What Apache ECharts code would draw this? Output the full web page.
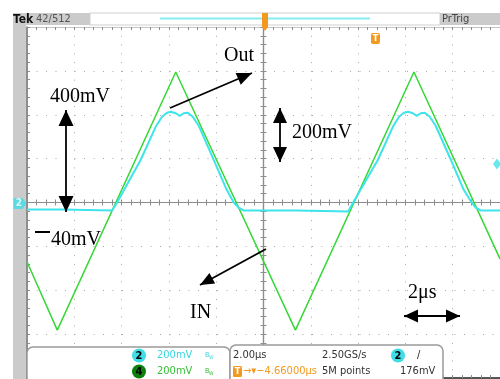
<!DOCTYPE html>
<html>
<head>
<meta charset="utf-8">
<script src="https://cdn.jsdelivr.net/npm/echarts@6/dist/echarts.min.js"></script>
<style>
  html, body { margin: 0; padding: 0; background: #fff; }
  #chart { width: 500px; height: 379px; }
</style>
</head>
<body>
<div id="chart"></div>
<script>
// Time base: 2 µs/div, 10 divisions; both channels 200 mV/div, 8 divisions
const timeRange = [-10, 10];
const timeStep = 2;
const mvRange = [-800, 800];
const mvStep = 200;

// CH4 (IN): triangle wave, corner points (µs, mV)
const inTime = [-10.0, -8.72, -3.71, 1.35, 6.36, 10.0];
const inMv = [-270, -582, 595, -582, 595, -257];

// CH2 (Out): clipped / rounded response (µs, mV)
const outTime = [-10.0, -8.55, -8.50, -6.40, -6.19, -5.19, -4.56, -4.29, -4.08, -3.92, -3.71, -3.54, -3.37, -3.20, -2.99, -2.74, -2.11, -1.56, -1.26, -1.05, -0.84,
  1.39, 1.45, 3.58, 3.79, 4.84, 5.47, 5.73, 5.94, 6.11, 6.32, 6.48, 6.65, 6.82, 7.03, 7.28, 7.92, 8.46, 8.80, 8.97, 9.18, 10.0];
const outMv = [-32, -32, -36, -36, 0, 195, 345, 391, 409, 414, 407, 395, 407, 409, 391, 350, 195, 59, 0, -23, -36,
  -36, -41, -41, 0, 195, 345, 391, 409, 414, 407, 395, 407, 409, 391, 350, 195, 59, 0, -23, -36, -36];

// Trigger settings
const trigLevelMv = [176];
const trigLevelText = '176mV';
const ch2Zero = [0];

// Readout texts
const chScaleText = ['200mV', '200mV'];
const timeDivText = '2.00\u03bcs';
const sampleRateText = '2.50GS/s';
const delayText = '\u22124.66000\u03bcs';
const recordText = '5M points';

const zip = (a, b) => a.map((v, i) => [v, b[i]]);

const CYAN = '#3fe3ea';
const GREEN = '#35d835';
const ORANGE = '#f29a1f';
const SCOPE_FONT = '"DejaVu Sans Condensed", "Liberation Sans Narrow", sans-serif';
const SERIF = '"Liberation Serif", "DejaVu Serif", serif';

const gridRect = { left: 27, top: 27, width: 475, height: 351 };

function txt(x, y, s, opts) {
  opts = opts || {};
  return {
    type: 'text', z: opts.z || 120,
    style: {
      x: x, y: y, text: s,
      font: opts.font || ('11px ' + SCOPE_FONT),
      fill: opts.fill || '#333',
      align: opts.align || 'left', textAlign: opts.align || 'left',
      verticalAlign: 'middle', textVerticalAlign: 'middle'
    }
  };
}

function head(tx, ty, fx, fy, L, W) {
  const dx = tx - fx, dy = ty - fy;
  const len = Math.hypot(dx, dy);
  const ux = dx / len, uy = dy / len;
  const bx = tx - ux * L, by = ty - uy * L;
  return {
    type: 'polygon', z: 130,
    shape: { points: [[tx, ty], [bx - uy * W, by + ux * W], [bx + uy * W, by - ux * W]] },
    style: { fill: '#000' }
  };
}

function arrow(x1, y1, x2, y2, both, L, W) {
  const els = [{
    type: 'line', z: 130,
    shape: { x1: x1, y1: y1, x2: x2, y2: y2 },
    style: { stroke: '#000', lineWidth: 1.8 }
  }];
  els.push(head(x2, y2, x1, y1, L, W));
  if (both) els.push(head(x1, y1, x2, y2, L, W));
  return els;
}

function chip(cx, cy, label, fill, color) {
  return [
    { type: 'circle', z: 125, shape: { cx: cx, cy: cy, r: 7 }, style: { fill: fill } },
    txt(cx, cy + 0.5, label, { align: 'center', fill: color || '#000', font: 'bold 11px ' + SCOPE_FONT, z: 126 })
  ];
}

const graphics = [
  // left bezel strip and header bar
  { type: 'rect', z: 110, shape: { x: 13, y: 13, width: 13, height: 366 }, style: { fill: '#cbcbcb' } },
  { type: 'rect', z: 110, shape: { x: 13, y: 13, width: 77, height: 12 }, style: { fill: '#cbcbcb' } },
  { type: 'rect', z: 110, shape: { x: 90, y: 13, width: 350, height: 12 }, style: { fill: '#fff', stroke: '#cfcfcf', lineWidth: 1 } },
  { type: 'line', z: 111, shape: { x1: 160, y1: 18.5, x2: 370, y2: 18.5 }, style: { stroke: '#86eef0', lineWidth: 2 } },
  { type: 'rect', z: 110, shape: { x: 440, y: 13, width: 62, height: 12 }, style: { fill: '#cbcbcb' } },
  txt(13, 19.5, 'Tek', { font: 'bold 12px ' + SCOPE_FONT, fill: '#111' }),
  txt(36, 19.5, '42/512', { fill: '#555' }),
  txt(442, 19.5, 'PrTrig', { fill: '#444' }),
  // trigger position marker (top centre) and trigger point marker
  { type: 'polygon', z: 120, shape: { points: [[262, 13], [268, 13], [268, 27], [265, 31], [262, 27]] }, style: { fill: ORANGE } },
  { type: 'rect', z: 120, shape: { x: 371, y: 33, width: 9, height: 11, r: 2 }, style: { fill: ORANGE } },
  txt(375.5, 38.5, 'T', { align: 'center', fill: '#fff', font: 'bold 9px ' + SCOPE_FONT, z: 121 }),

  // readout panels
  { type: 'rect', z: 115, shape: { x: 27, y: 347, width: 203, height: 44, r: 6 }, style: { fill: '#fff', stroke: '#9a9a9a', lineWidth: 1.5 } },
  { type: 'rect', z: 115, shape: { x: 230, y: 345, width: 213, height: 46, r: 6 }, style: { fill: '#fff', stroke: '#9a9a9a', lineWidth: 1.5 } },
  ...chip(139, 355.5, '2', '#3fdde6'),
  txt(157, 355.5, chScaleText[0], { fill: '#33d6e0' }),
  txt(205, 355, 'B', { fill: '#33d6e0', font: '7px ' + SCOPE_FONT }),
  txt(209, 357.5, 'W', { fill: '#33d6e0', font: '5px ' + SCOPE_FONT }),
  ...chip(139, 371.5, '4', '#0d7f0d'),
  txt(157, 371.5, chScaleText[1], { fill: '#33c033' }),
  txt(205, 371, 'B', { fill: '#33c033', font: '7px ' + SCOPE_FONT }),
  txt(209, 373.5, 'W', { fill: '#33c033', font: '5px ' + SCOPE_FONT }),
  txt(233, 355, timeDivText, { fill: '#333' }),
  txt(322, 355, sampleRateText, { fill: '#333' }),
  ...chip(398, 355.5, '2', '#3fdde6'),
  txt(417, 355, '/', { fill: '#222' }),
  { type: 'rect', z: 120, shape: { x: 233, y: 366, width: 9, height: 11, r: 1.5 }, style: { fill: ORANGE } },
  txt(237.5, 371.5, 'T', { align: 'center', fill: '#fff', font: 'bold 9px ' + SCOPE_FONT, z: 121 }),
  txt(243, 371.5, '\u2192\u25be' + delayText, { fill: ORANGE, font: '11px ' + SCOPE_FONT }),
  txt(322, 371.5, recordText, { fill: '#333' }),
  txt(400, 371.5, trigLevelText, { fill: '#333' }),

  // annotations
  txt(224, 56, 'Out', { font: '20px ' + SERIF, fill: '#000', z: 130 }),
  txt(50, 97, '400mV', { font: '20px ' + SERIF, fill: '#000', z: 130 }),
  txt(292, 133, '200mV', { font: '20px ' + SERIF, fill: '#000', z: 130 }),
  { type: 'line', z: 130, shape: { x1: 35, y1: 232, x2: 50, y2: 232 }, style: { stroke: '#000', lineWidth: 2 } },
  txt(51, 240, '40mV', { font: '20px ' + SERIF, fill: '#000', z: 130 }),
  txt(190, 313, 'IN', { font: '20px ' + SERIF, fill: '#000', z: 130 }),
  txt(408, 293, '2\u03bcs', { font: '20px ' + SERIF, fill: '#000', z: 130 }),
  ...arrow(170, 108, 252, 73, false, 15, 6.5),
  ...arrow(66, 110, 66, 212, true, 16, 7.5),
  ...arrow(280, 108, 280, 162, true, 15, 7),
  ...arrow(266, 249, 200, 285, false, 14, 6),
  ...arrow(404, 316, 460, 316, true, 14, 6.5)
];

function centerAxis(dim, position) {
  const isX = dim === 'x';
  return {
    type: 'value', gridIndex: 0, position: position,
    min: isX ? timeRange[0] : mvRange[0], max: isX ? timeRange[1] : mvRange[1],
    interval: isX ? timeStep : mvStep,
    axisLine: { show: true, onZero: true, onZeroAxisIndex: 0, lineStyle: { color: '#8d8d8d', width: 1.2 } },
    axisTick: { show: true, inside: true, length: 3, lineStyle: { color: '#8d8d8d' } },
    minorTick: { show: true, splitNumber: 5, length: 3, lineStyle: { color: '#8d8d8d' } },
    axisLabel: { show: false },
    splitLine: { show: false }
  };
}

const xMain = centerAxis('x', 'bottom');
xMain.splitLine = { show: true, lineStyle: { color: '#a8a8a8', width: 1, type: [1, 7.775] } };
const yMain = centerAxis('y', 'left');
yMain.splitLine = { show: true, lineStyle: { color: '#a8a8a8', width: 1, type: [1, 8.5] } };

function borderAxis(dim, position, color, width) {
  const isX = dim === 'x';
  return {
    type: 'value', gridIndex: 1, position: position,
    min: isX ? timeRange[0] : mvRange[0], max: isX ? timeRange[1] : mvRange[1],
    interval: isX ? timeStep : mvStep,
    axisLine: { show: true, onZero: false, lineStyle: { color: color, width: width } },
    axisTick: { show: true, inside: true, length: 3, lineStyle: { color: '#8d8d8d' } },
    minorTick: { show: true, splitNumber: 5, length: 3, lineStyle: { color: '#8d8d8d' } },
    axisLabel: { show: false },
    splitLine: { show: false }
  };
}

const chart = echarts.init(document.getElementById('chart'), null, { renderer: 'canvas' });
chart.setOption({
  animation: false,
  backgroundColor: '#fff',
  grid: [Object.assign({}, gridRect), Object.assign({}, gridRect)],
  xAxis: [
    xMain,
    centerAxis('x', 'top'),
    borderAxis('x', 'top', '#c4c4c4', 1),
    borderAxis('x', 'bottom', '#555', 2)
  ],
  yAxis: [
    yMain,
    centerAxis('y', 'right'),
    borderAxis('y', 'left', '#6a6a6a', 1.5)
  ],
  series: [
    {
      name: 'IN', type: 'line', xAxisIndex: 0, yAxisIndex: 0,
      data: zip(inTime, inMv), showSymbol: false, z: 3,
      lineStyle: { color: GREEN, width: 1.5 }
    },
    {
      name: 'Out', type: 'line', xAxisIndex: 0, yAxisIndex: 0,
      data: zip(outTime, outMv), showSymbol: false, z: 4,
      lineStyle: { color: CYAN, width: 2 }
    },
    {
      name: 'trigger level', type: 'scatter', xAxisIndex: 0, yAxisIndex: 0, clip: false, z: 5,
      data: [[timeRange[1], trigLevelMv[0]]],
      symbol: 'diamond', symbolSize: [8, 11], symbolOffset: [-3, 0],
      itemStyle: { color: CYAN }
    },
    {
      name: 'ch2 ground', type: 'scatter', xAxisIndex: 0, yAxisIndex: 0, clip: false, z: 200,
      data: [[timeRange[0], ch2Zero[0]]],
      symbol: 'path://M0,0 L9,0 L13,5.5 L9,11 L0,11 Z', symbolSize: [13, 11], symbolOffset: [-7, 1],
      itemStyle: { color: '#3fdde6' },
      label: { show: true, position: 'inside', formatter: '2', color: '#fff', fontSize: 10, fontWeight: 'bold', fontFamily: 'DejaVu Sans Condensed', offset: [-1, 0] }
    }
  ],
  graphic: graphics
});
</script>
</body>
</html>
